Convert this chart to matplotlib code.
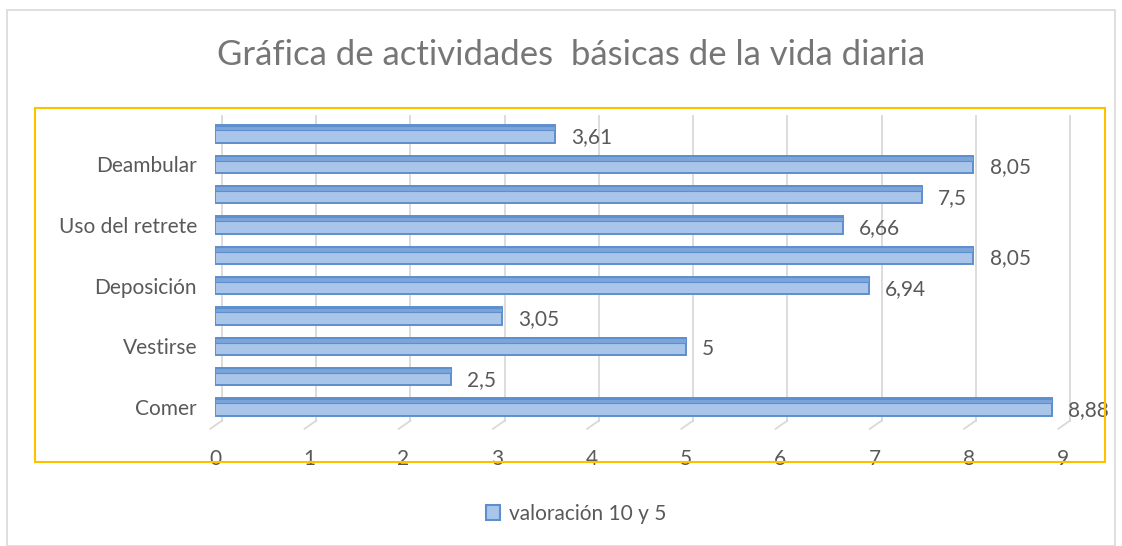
import matplotlib.pyplot as plt
from matplotlib.patches import Rectangle

plt.rcParams['font.family'] = ['Lato', 'DejaVu Sans']

# Barthel index items, bottom to top (only every other label is shown)
categorias = ['Comer', 'Lavarse', 'Vestirse', 'Arreglarse', 'Deposición',
              'Micción', 'Uso del retrete', 'Trasladarse', 'Deambular', 'Escalones']
valores = [8.88, 2.5, 5, 3.05, 6.94, 8.05, 6.66, 7.5, 8.05, 3.61]
etiquetas = [c if i % 2 == 0 else '' for i, c in enumerate(categorias)]
serie = 'valoración 10 y 5'

W, H = 1122, 546
gris = '#595959'
fig = plt.figure(figsize=(W / 100, H / 100), dpi=100)

# outer chart border and yellow plot-area frame
fig.patches.append(Rectangle((7 / W, 0), 1108 / W, (H - 10) / H, transform=fig.transFigure,
                             fill=False, edgecolor='#d9d9d9', linewidth=1.2))
fig.patches.append(Rectangle((35 / W, (H - 462) / H), 1070 / W, 354 / H, transform=fig.transFigure,
                             fill=False, edgecolor='#ffc000', linewidth=1.5))

ax = fig.add_axes([215 / W, (H - 425.2) / H, 848 / W, 309.4 / H])
ax.set_xlim(0, 9)
ax.set_ylim(-0.6, 9.6)
for s in ax.spines.values():
    s.set_visible(False)

# 3D-looking gridlines: back wall lines shifted right, with a slanted foot
dx = 7 / 94.2
for x in range(0, 10):
    ax.plot([x + dx, x + dx], [9.6, -0.45], color='#d9d9d9', lw=1.3, zorder=0, clip_on=False)
    ax.plot([x + dx, x - 0.05], [-0.45, -0.72], color='#d9d9d9', lw=1.3, zorder=0, clip_on=False)

y = list(range(len(valores)))
ax.barh(y, valores, height=0.58, color='#a9c5ea', edgecolor='#5e8fcc', linewidth=1.4, zorder=2)
# top face of the 3D bars
ax.barh([v + 0.2 for v in y], valores, height=0.16, color='#7ca5da', edgecolor='#5e8fcc',
        linewidth=0.8, zorder=3)

for yi, v in zip(y, valores):
    ax.text(v + 0.17, yi - 0.1, f'{v:g}'.replace('.', ','), va='center', ha='left',
            fontsize=15, color=gris)

ax.set_yticks(y)
ax.set_yticklabels(etiquetas, fontsize=15, color=gris)
ax.set_xticks(range(0, 10))
ax.tick_params(axis='both', length=0, labelcolor=gris, labelsize=15)
ax.tick_params(axis='y', pad=13)
ax.tick_params(axis='x', pad=17)

fig.text(0.509, (H - 55) / H, 'Gráfica de actividades  básicas de la vida diaria',
         ha='center', va='center', fontsize=25, color='#767676')

h = Rectangle((0, 0), 1, 1, facecolor='#a9c5ea', edgecolor='#5e8fcc', linewidth=1.5)
fig.legend([h], [serie], loc='center', bbox_to_anchor=(576 / W, (H - 514) / H), frameon=False,
           fontsize=15, labelcolor=gris, handlelength=0.7, handleheight=0.7, handletextpad=0.4)

fig.savefig('out.png', dpi=100)
